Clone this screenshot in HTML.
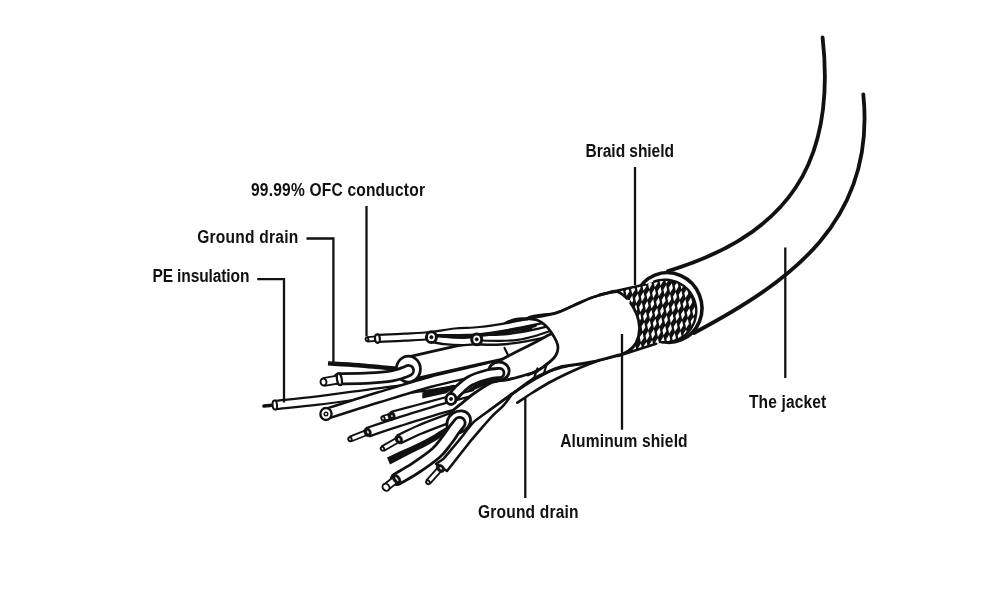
<!DOCTYPE html>
<html><head><meta charset="utf-8"><style>
html,body{margin:0;padding:0;background:#fff;width:1000px;height:600px;overflow:hidden}
svg{display:block;will-change:transform}
text{font-family:"Liberation Sans",sans-serif;font-size:19px;font-weight:700;fill:#111}
</style></head><body>
<svg width="1000" height="600" viewBox="0 0 1000 600">
<defs>

</defs>
<rect width="1000" height="600" fill="#fff"/>
<path d="M822.6,37.5 C836.6,163 788,235 668.0,271.0" fill="none" stroke="#111" stroke-width="3.8" stroke-linecap="round"/>
<path d="M863.3,94.3 C876.3,221.1 790.3,281.8 694.0,333.0" fill="none" stroke="#111" stroke-width="3.8" stroke-linecap="round"/>
<ellipse cx="668" cy="307.5" rx="33.8" ry="35" transform="rotate(-22 668 307.5)" fill="#fff" stroke="#111" stroke-width="3.6"/>
<clipPath id="bc"><path d="M600,294.5 L645,284.5 L658,280 L667,295 L667,325 L667,338 L665,342 L656,343.8 L618,356 Z M633.7,311 A31.3,31.3 0 1,1 696.3,311 A31.3,31.3 0 1,1 633.7,311 Z"/></clipPath>
<path d="M600,294.5 L645,284.5 L658,280 L667,295 L667,325 L667,338 L665,342 L656,343.8 L618,356 Z M633.7,311 A31.3,31.3 0 1,1 696.3,311 A31.3,31.3 0 1,1 633.7,311 Z" fill="#111"/>
<path d="M597.4,346.8 L598.5,351.9 L595.7,356.3 L594.6,351.2ZM599.0,336.2 L600.1,341.2 L597.4,345.6 L596.3,340.6ZM603.0,345.1 L604.1,350.1 L601.4,354.5 L600.3,349.5ZM607.0,354.0 L608.1,359.0 L605.4,363.4 L604.3,358.4ZM596.7,316.6 L597.8,321.7 L595.0,326.1 L593.9,321.0ZM600.7,325.5 L601.8,330.6 L599.0,335.0 L597.9,329.9ZM604.7,334.4 L605.8,339.5 L603.0,343.9 L601.9,338.8ZM608.7,343.3 L609.8,348.4 L607.0,352.8 L605.9,347.7ZM612.7,352.2 L613.8,357.3 L611.0,361.7 L609.9,356.6ZM598.3,306.0 L599.4,311.0 L596.7,315.4 L595.6,310.4ZM602.3,314.9 L603.4,319.9 L600.7,324.3 L599.6,319.3ZM606.3,323.8 L607.4,328.8 L604.7,333.2 L603.6,328.2ZM610.3,332.7 L611.4,337.7 L608.7,342.1 L607.6,337.1ZM614.3,341.6 L615.4,346.6 L612.7,351.0 L611.6,346.0ZM618.3,350.5 L619.4,355.5 L616.7,359.9 L615.6,354.9ZM596.0,286.4 L597.1,291.5 L594.3,295.9 L593.2,290.8ZM600.0,295.3 L601.1,300.4 L598.3,304.8 L597.2,299.7ZM604.0,304.2 L605.1,309.3 L602.3,313.7 L601.2,308.6ZM608.0,313.1 L609.1,318.2 L606.3,322.6 L605.2,317.5ZM612.0,322.0 L613.1,327.1 L610.3,331.5 L609.2,326.4ZM616.0,330.9 L617.1,336.0 L614.3,340.4 L613.2,335.3ZM620.0,339.8 L621.1,344.9 L618.3,349.3 L617.2,344.2ZM624.0,348.7 L625.1,353.8 L622.3,358.2 L621.2,353.1ZM597.6,275.8 L598.7,280.8 L596.0,285.2 L594.9,280.2ZM601.6,284.7 L602.7,289.7 L600.0,294.1 L598.9,289.1ZM605.6,293.6 L606.7,298.6 L604.0,303.0 L602.9,298.0ZM609.6,302.5 L610.7,307.5 L608.0,311.9 L606.9,306.9ZM613.6,311.4 L614.7,316.4 L612.0,320.8 L610.9,315.8ZM617.6,320.3 L618.7,325.3 L616.0,329.7 L614.9,324.7ZM621.6,329.2 L622.7,334.2 L620.0,338.6 L618.9,333.6ZM625.6,338.1 L626.7,343.1 L624.0,347.5 L622.9,342.5ZM629.6,347.0 L630.7,352.0 L628.0,356.4 L626.9,351.4ZM603.3,274.0 L604.4,279.1 L601.6,283.5 L600.5,278.4ZM607.3,282.9 L608.4,288.0 L605.6,292.4 L604.5,287.3ZM611.3,291.8 L612.4,296.9 L609.6,301.3 L608.5,296.2ZM615.3,300.7 L616.4,305.8 L613.6,310.2 L612.5,305.1ZM619.3,309.6 L620.4,314.7 L617.6,319.1 L616.5,314.0ZM623.3,318.5 L624.4,323.6 L621.6,328.0 L620.5,322.9ZM627.3,327.4 L628.4,332.5 L625.6,336.9 L624.5,331.8ZM631.3,336.3 L632.4,341.4 L629.6,345.8 L628.5,340.7ZM635.3,345.2 L636.4,350.3 L633.6,354.7 L632.5,349.6ZM639.3,354.1 L640.4,359.2 L637.6,363.6 L636.5,358.5ZM608.9,272.3 L610.0,277.3 L607.3,281.7 L606.2,276.7ZM612.9,281.2 L614.0,286.2 L611.3,290.6 L610.2,285.6ZM616.9,290.1 L618.0,295.1 L615.3,299.5 L614.2,294.5ZM620.9,299.0 L622.0,304.0 L619.3,308.4 L618.2,303.4ZM624.9,307.9 L626.0,312.9 L623.3,317.3 L622.2,312.3ZM628.9,316.8 L630.0,321.8 L627.3,326.2 L626.2,321.2ZM632.9,325.7 L634.0,330.7 L631.3,335.1 L630.2,330.1ZM636.9,334.6 L638.0,339.6 L635.3,344.0 L634.2,339.0ZM640.9,343.5 L642.0,348.5 L639.3,352.9 L638.2,347.9ZM644.9,352.4 L646.0,357.4 L643.3,361.8 L642.2,356.8ZM614.6,270.5 L615.7,275.6 L612.9,280.0 L611.8,274.9ZM618.6,279.4 L619.7,284.5 L616.9,288.9 L615.8,283.8ZM622.6,288.3 L623.7,293.4 L620.9,297.8 L619.8,292.7ZM626.6,297.2 L627.7,302.3 L624.9,306.7 L623.8,301.6ZM630.6,306.1 L631.7,311.2 L628.9,315.6 L627.8,310.5ZM634.6,315.0 L635.7,320.1 L632.9,324.5 L631.8,319.4ZM638.6,323.9 L639.7,329.0 L636.9,333.4 L635.8,328.3ZM642.6,332.8 L643.7,337.9 L640.9,342.3 L639.8,337.2ZM646.6,341.7 L647.7,346.8 L644.9,351.2 L643.8,346.1ZM650.6,350.6 L651.7,355.7 L648.9,360.1 L647.8,355.0ZM620.2,268.8 L621.3,273.8 L618.6,278.2 L617.5,273.2ZM624.2,277.7 L625.3,282.7 L622.6,287.1 L621.5,282.1ZM628.2,286.6 L629.3,291.6 L626.6,296.0 L625.5,291.0ZM632.2,295.5 L633.3,300.5 L630.6,304.9 L629.5,299.9ZM636.2,304.4 L637.3,309.4 L634.6,313.8 L633.5,308.8ZM640.2,313.3 L641.3,318.3 L638.6,322.7 L637.5,317.7ZM644.2,322.2 L645.3,327.2 L642.6,331.6 L641.5,326.6ZM648.2,331.1 L649.3,336.1 L646.6,340.5 L645.5,335.5ZM652.2,340.0 L653.3,345.0 L650.6,349.4 L649.5,344.4ZM656.2,348.9 L657.3,353.9 L654.6,358.3 L653.5,353.3ZM625.9,267.0 L627.0,272.1 L624.2,276.5 L623.1,271.4ZM629.9,275.9 L631.0,281.0 L628.2,285.4 L627.1,280.3ZM633.9,284.8 L635.0,289.9 L632.2,294.3 L631.1,289.2ZM637.9,293.7 L639.0,298.8 L636.2,303.2 L635.1,298.1ZM641.9,302.6 L643.0,307.7 L640.2,312.1 L639.1,307.0ZM645.9,311.5 L647.0,316.6 L644.2,321.0 L643.1,315.9ZM649.9,320.4 L651.0,325.5 L648.2,329.9 L647.1,324.8ZM653.9,329.3 L655.0,334.4 L652.2,338.8 L651.1,333.7ZM657.9,338.2 L659.0,343.3 L656.2,347.7 L655.1,342.6ZM661.9,347.1 L663.0,352.2 L660.2,356.6 L659.1,351.5ZM635.5,274.2 L636.6,279.2 L633.9,283.6 L632.8,278.6ZM639.5,283.1 L640.6,288.1 L637.9,292.5 L636.8,287.5ZM643.5,292.0 L644.6,297.0 L641.9,301.4 L640.8,296.4ZM647.5,300.9 L648.6,305.9 L645.9,310.3 L644.8,305.3ZM651.5,309.8 L652.6,314.8 L649.9,319.2 L648.8,314.2ZM655.5,318.7 L656.6,323.7 L653.9,328.1 L652.8,323.1ZM659.5,327.6 L660.6,332.6 L657.9,337.0 L656.8,332.0ZM663.5,336.5 L664.6,341.5 L661.9,345.9 L660.8,340.9ZM667.5,345.4 L668.6,350.4 L665.9,354.8 L664.8,349.8ZM671.5,354.3 L672.6,359.3 L669.9,363.7 L668.8,358.7ZM641.2,272.4 L642.3,277.5 L639.5,281.9 L638.4,276.8ZM645.2,281.3 L646.3,286.4 L643.5,290.8 L642.4,285.7ZM649.2,290.2 L650.3,295.3 L647.5,299.7 L646.4,294.6ZM653.2,299.1 L654.3,304.2 L651.5,308.6 L650.4,303.5ZM657.2,308.0 L658.3,313.1 L655.5,317.5 L654.4,312.4ZM661.2,316.9 L662.3,322.0 L659.5,326.4 L658.4,321.3ZM665.2,325.8 L666.3,330.9 L663.5,335.3 L662.4,330.2ZM669.2,334.7 L670.3,339.8 L667.5,344.2 L666.4,339.1ZM673.2,343.6 L674.3,348.7 L671.5,353.1 L670.4,348.0ZM677.2,352.5 L678.3,357.6 L675.5,362.0 L674.4,356.9ZM646.8,270.7 L647.9,275.7 L645.2,280.1 L644.1,275.1ZM650.8,279.6 L651.9,284.6 L649.2,289.0 L648.1,284.0ZM654.8,288.5 L655.9,293.5 L653.2,297.9 L652.1,292.9ZM658.8,297.4 L659.9,302.4 L657.2,306.8 L656.1,301.8ZM662.8,306.3 L663.9,311.3 L661.2,315.7 L660.1,310.7ZM666.8,315.2 L667.9,320.2 L665.2,324.6 L664.1,319.6ZM670.8,324.1 L671.9,329.1 L669.2,333.5 L668.1,328.5ZM674.8,333.0 L675.9,338.0 L673.2,342.4 L672.1,337.4ZM678.8,341.9 L679.9,346.9 L677.2,351.3 L676.1,346.3ZM682.8,350.8 L683.9,355.8 L681.2,360.2 L680.1,355.2ZM652.5,268.9 L653.6,274.0 L650.8,278.4 L649.7,273.3ZM656.5,277.8 L657.6,282.9 L654.8,287.3 L653.7,282.2ZM660.5,286.7 L661.6,291.8 L658.8,296.2 L657.7,291.1ZM664.5,295.6 L665.6,300.7 L662.8,305.1 L661.7,300.0ZM668.5,304.5 L669.6,309.6 L666.8,314.0 L665.7,308.9ZM672.5,313.4 L673.6,318.5 L670.8,322.9 L669.7,317.8ZM676.5,322.3 L677.6,327.4 L674.8,331.8 L673.7,326.7ZM680.5,331.2 L681.6,336.3 L678.8,340.7 L677.7,335.6ZM684.5,340.1 L685.6,345.2 L682.8,349.6 L681.7,344.5ZM688.5,349.0 L689.6,354.1 L686.8,358.5 L685.7,353.4ZM658.1,267.2 L659.2,272.2 L656.5,276.6 L655.4,271.6ZM662.1,276.1 L663.2,281.1 L660.5,285.5 L659.4,280.5ZM666.1,285.0 L667.2,290.0 L664.5,294.4 L663.4,289.4ZM670.1,293.9 L671.2,298.9 L668.5,303.3 L667.4,298.3ZM674.1,302.8 L675.2,307.8 L672.5,312.2 L671.4,307.2ZM678.1,311.7 L679.2,316.7 L676.5,321.1 L675.4,316.1ZM682.1,320.6 L683.2,325.6 L680.5,330.0 L679.4,325.0ZM686.1,329.5 L687.2,334.5 L684.5,338.9 L683.4,333.9ZM690.1,338.4 L691.2,343.4 L688.5,347.8 L687.4,342.8ZM694.1,347.3 L695.2,352.3 L692.5,356.7 L691.4,351.7ZM663.8,265.4 L664.9,270.5 L662.1,274.9 L661.0,269.8ZM667.8,274.3 L668.9,279.4 L666.1,283.8 L665.0,278.7ZM671.8,283.2 L672.9,288.3 L670.1,292.7 L669.0,287.6ZM675.8,292.1 L676.9,297.2 L674.1,301.6 L673.0,296.5ZM679.8,301.0 L680.9,306.1 L678.1,310.5 L677.0,305.4ZM683.8,309.9 L684.9,315.0 L682.1,319.4 L681.0,314.3ZM687.8,318.8 L688.9,323.9 L686.1,328.3 L685.0,323.2ZM691.8,327.7 L692.9,332.8 L690.1,337.2 L689.0,332.1ZM695.8,336.6 L696.9,341.7 L694.1,346.1 L693.0,341.0ZM699.8,345.5 L700.9,350.6 L698.1,355.0 L697.0,349.9ZM703.8,354.4 L704.9,359.5 L702.1,363.9 L701.0,358.8ZM673.4,272.6 L674.5,277.6 L671.8,282.0 L670.7,277.0ZM677.4,281.5 L678.5,286.5 L675.8,290.9 L674.7,285.9ZM681.4,290.4 L682.5,295.4 L679.8,299.8 L678.7,294.8ZM685.4,299.3 L686.5,304.3 L683.8,308.7 L682.7,303.7ZM689.4,308.2 L690.5,313.2 L687.8,317.6 L686.7,312.6ZM693.4,317.1 L694.5,322.1 L691.8,326.5 L690.7,321.5ZM697.4,326.0 L698.5,331.0 L695.8,335.4 L694.7,330.4ZM701.4,334.9 L702.5,339.9 L699.8,344.3 L698.7,339.3ZM705.4,343.8 L706.5,348.8 L703.8,353.2 L702.7,348.2ZM679.1,270.8 L680.2,275.9 L677.4,280.3 L676.3,275.2ZM683.1,279.7 L684.2,284.8 L681.4,289.2 L680.3,284.1ZM687.1,288.6 L688.2,293.7 L685.4,298.1 L684.3,293.0ZM691.1,297.5 L692.2,302.6 L689.4,307.0 L688.3,301.9ZM695.1,306.4 L696.2,311.5 L693.4,315.9 L692.3,310.8ZM699.1,315.3 L700.2,320.4 L697.4,324.8 L696.3,319.7ZM703.1,324.2 L704.2,329.3 L701.4,333.7 L700.3,328.6ZM684.7,269.1 L685.8,274.1 L683.1,278.5 L682.0,273.5ZM688.7,278.0 L689.8,283.0 L687.1,287.4 L686.0,282.4ZM692.7,286.9 L693.8,291.9 L691.1,296.3 L690.0,291.3ZM696.7,295.8 L697.8,300.8 L695.1,305.2 L694.0,300.2ZM700.7,304.7 L701.8,309.7 L699.1,314.1 L698.0,309.1ZM704.7,313.6 L705.8,318.6 L703.1,323.0 L702.0,318.0ZM690.4,267.3 L691.5,272.4 L688.7,276.8 L687.6,271.7ZM694.4,276.2 L695.5,281.3 L692.7,285.7 L691.6,280.6ZM698.4,285.1 L699.5,290.2 L696.7,294.6 L695.6,289.5ZM702.4,294.0 L703.5,299.1 L700.7,303.5 L699.6,298.4ZM696.0,265.6 L697.1,270.6 L694.4,275.0 L693.3,270.0ZM700.0,274.5 L701.1,279.5 L698.4,283.9 L697.3,278.9ZM704.0,283.4 L705.1,288.4 L702.4,292.8 L701.3,287.8ZM705.7,272.7 L706.8,277.8 L704.0,282.2 L702.9,277.1Z" fill="#fff" clip-path="url(#bc)"/>
<path d="M653.3,282.0 L656.0,281.0 L658.8,280.3 L661.7,279.9 L664.6,279.7 L667.5,279.8 L670.3,280.2 L673.2,280.8 L675.9,281.7 L678.6,282.8 L681.1,284.2 L683.5,285.8 L685.8,287.6 L687.9,289.6 L689.7,291.8 L691.4,294.2 L692.8,296.7 L694.0,299.3 L695.0,302.1 L695.7,304.9 L696.1,307.7 L696.3,310.6 L696.2,313.5 L695.8,316.4 L695.2,319.2 L694.3,322.0 L693.2,324.6 L691.8,327.2 L690.2,329.6 L688.4,331.8 L686.3,333.9 L684.1,335.8 L681.8,337.4 L679.3,338.9 L676.6,340.1 L673.9,341.0 L671.1,341.7 L668.2,342.1 L665.3,342.3 L662.4,342.2 L659.6,341.8" fill="none" stroke="#111" stroke-width="2.4"/>
<path d="M600.0,294.5 L645.0,284.5" fill="none" stroke="#111" stroke-width="2.6" stroke-linecap="round" stroke-linejoin="round"/>
<path d="M618.0,356.0 L656.0,343.8" fill="none" stroke="#111" stroke-width="2.6" stroke-linecap="round" stroke-linejoin="round"/>
<path d="M527.0,318.5 C535.3,314.1 547.3,315.4 555.0,313.3 C562.7,311.2 567.2,308.3 573.3,305.7 C579.4,303.1 585.9,299.8 591.7,297.7 C597.5,295.6 603.8,294.0 608.0,293.0 C612.2,292.0 613.6,290.3 617.0,291.5 C620.4,292.7 625.0,296.2 628.3,300.0 C631.6,303.8 634.7,309.2 636.6,314.0 C638.5,318.8 639.6,323.9 639.5,328.7 C639.4,333.5 637.9,339.3 636.0,343.0 C634.1,346.7 631.3,348.9 628.3,351.0 C625.3,353.1 622.7,354.0 618.0,355.5 C613.3,357.0 605.7,358.7 600.0,360.0 C594.3,361.3 589.3,362.3 584.0,363.3 C578.7,364.3 573.2,364.9 568.0,366.0 C562.8,367.1 558.0,368.5 553.0,370.0 C548.0,371.5 542.2,373.7 538.0,375.0 C533.8,376.3 532.7,376.3 528.0,378.0 C523.3,379.7 513.8,391.3 510.0,385.0 C506.2,378.7 502.2,351.1 505.0,340.0 C507.8,328.9 518.7,322.9 527.0,318.5Z" fill="#fff" stroke="#111" stroke-width="2.8" stroke-linejoin="round"/>
<path d="M275.0,405.0 C282.2,404.2 300.8,402.6 318.0,400.5 C335.2,398.4 359.3,394.9 378.0,392.5 C396.7,390.1 414.7,388.2 430.0,386.0 C445.3,383.8 457.5,381.5 470.0,379.0 C482.5,376.5 499.2,372.3 505.0,371.0" fill="none" stroke="#111" stroke-width="10.600000000000001" stroke-linecap="butt"/>
<path d="M275.0,405.0 C282.2,404.2 300.8,402.6 318.0,400.5 C335.2,398.4 359.3,394.9 378.0,392.5 C396.7,390.1 414.7,388.2 430.0,386.0 C445.3,383.8 457.5,381.5 470.0,379.0 C482.5,376.5 499.2,372.3 505.0,371.0" fill="none" stroke="#fff" stroke-width="6.2" stroke-linecap="butt"/>
<path d="M326.0,414.0 C334.7,411.2 360.7,402.8 378.0,397.5 C395.3,392.2 413.0,386.6 430.0,382.0 C447.0,377.4 465.8,373.7 480.0,370.0 C494.2,366.3 509.2,361.7 515.0,360.0" fill="none" stroke="#111" stroke-width="12.3" stroke-linecap="butt"/>
<path d="M326.0,414.0 C334.7,411.2 360.7,402.8 378.0,397.5 C395.3,392.2 413.0,386.6 430.0,382.0 C447.0,377.4 465.8,373.7 480.0,370.0 C494.2,366.3 509.2,361.7 515.0,360.0" fill="none" stroke="#fff" stroke-width="7.5" stroke-linecap="butt"/>
<ellipse cx="326" cy="414" rx="5.6" ry="6" transform="rotate(0 326 414)" fill="#fff" stroke="#111" stroke-width="2.4"/>
<ellipse cx="326" cy="414" rx="1.8" ry="1.8" transform="rotate(0 326 414)" fill="#fff" stroke="#111" stroke-width="1.4"/>
<path d="M391.6,416.0 C396.0,414.8 409.3,411.3 418.0,409.0 C426.7,406.7 434.5,404.5 444.0,402.0 C453.5,399.5 469.8,395.3 475.0,394.0" fill="none" stroke="#111" stroke-width="10.6" stroke-linecap="butt"/>
<path d="M391.6,416.0 C396.0,414.8 409.3,411.3 418.0,409.0 C426.7,406.7 434.5,404.5 444.0,402.0 C453.5,399.5 469.8,395.3 475.0,394.0" fill="none" stroke="#fff" stroke-width="6" stroke-linecap="butt"/>
<path d="M367.6,432.2 C373.0,430.4 387.3,425.5 400.0,421.5 C412.7,417.5 429.8,412.1 444.0,408.0 C458.2,403.9 478.2,398.8 485.0,397.0" fill="none" stroke="#111" stroke-width="11.1" stroke-linecap="butt"/>
<path d="M367.6,432.2 C373.0,430.4 387.3,425.5 400.0,421.5 C412.7,417.5 429.8,412.1 444.0,408.0 C458.2,403.9 478.2,398.8 485.0,397.0" fill="none" stroke="#fff" stroke-width="6.5" stroke-linecap="butt"/>
<path d="M398.8,439.4 C402.3,437.8 412.0,432.9 420.0,429.5 C428.0,426.1 436.2,423.2 447.0,419.0 C457.8,414.8 478.7,406.5 485.0,404.0" fill="none" stroke="#111" stroke-width="11.1" stroke-linecap="butt"/>
<path d="M398.8,439.4 C402.3,437.8 412.0,432.9 420.0,429.5 C428.0,426.1 436.2,423.2 447.0,419.0 C457.8,414.8 478.7,406.5 485.0,404.0" fill="none" stroke="#fff" stroke-width="6.5" stroke-linecap="butt"/>
<path d="M422.3,392.6 L453.5,384.8 L455.5,386.5 L446.5,393.3 L422.3,398.4Z" fill="#111"/>
<path d="M328.0,363.4 C333.0,363.7 349.0,364.5 358.0,365.2 C367.0,365.9 375.0,366.8 382.0,367.4 C389.0,368.0 397.0,368.7 400.0,369.0" fill="none" stroke="#111" stroke-width="4.4" stroke-linecap="butt" stroke-linejoin="round"/>
<path d="M409.0,368.5 C416.7,366.8 439.0,361.6 455.0,358.0 C471.0,354.4 491.7,350.0 505.0,347.0 C518.3,344.0 530.0,341.2 535.0,340.0" fill="none" stroke="#111" stroke-width="25.6" stroke-linecap="butt"/>
<path d="M409.0,368.5 C416.7,366.8 439.0,361.6 455.0,358.0 C471.0,354.4 491.7,350.0 505.0,347.0 C518.3,344.0 530.0,341.2 535.0,340.0" fill="none" stroke="#fff" stroke-width="20" stroke-linecap="butt"/>
<ellipse cx="408.4" cy="369.1" rx="12" ry="13" transform="rotate(0 408.4 369.1)" fill="#fff" stroke="#111" stroke-width="2.8"/>
<path d="M339.4,378.8 C344.5,378.7 361.2,378.5 370.0,378.0 C378.8,377.5 386.5,376.7 392.0,375.8 C397.5,374.9 400.2,373.7 403.0,372.8 C405.8,371.9 407.6,370.9 408.5,370.5" fill="none" stroke="#111" stroke-width="13.0" stroke-linecap="round"/>
<path d="M339.4,378.8 C344.5,378.7 361.2,378.5 370.0,378.0 C378.8,377.5 386.5,376.7 392.0,375.8 C397.5,374.9 400.2,373.7 403.0,372.8 C405.8,371.9 407.6,370.9 408.5,370.5" fill="none" stroke="#fff" stroke-width="7.4" stroke-linecap="round"/>
<path d="M377.0,338.3 C381.7,338.1 396.0,337.7 405.0,337.2 C414.0,336.7 422.7,336.4 431.0,335.5 C439.3,334.6 446.8,332.8 455.0,332.0 C463.2,331.2 470.8,331.5 480.0,330.5 C489.2,329.5 499.2,327.9 510.0,326.0 C520.8,324.1 539.2,320.2 545.0,319.0" fill="none" stroke="#111" stroke-width="9.2" stroke-linecap="butt"/>
<path d="M377.0,338.3 C381.7,338.1 396.0,337.7 405.0,337.2 C414.0,336.7 422.7,336.4 431.0,335.5 C439.3,334.6 446.8,332.8 455.0,332.0 C463.2,331.2 470.8,331.5 480.0,330.5 C489.2,329.5 499.2,327.9 510.0,326.0 C520.8,324.1 539.2,320.2 545.0,319.0" fill="none" stroke="#fff" stroke-width="4.8" stroke-linecap="butt"/>
<path d="M477.0,339.5 C480.8,339.5 492.0,340.1 500.0,339.6 C508.0,339.1 516.3,338.0 525.0,336.5 C533.7,335.0 547.5,331.5 552.0,330.5" fill="none" stroke="#111" stroke-width="12.3" stroke-linecap="butt"/>
<path d="M477.0,339.5 C480.8,339.5 492.0,340.1 500.0,339.6 C508.0,339.1 516.3,338.0 525.0,336.5 C533.7,335.0 547.5,331.5 552.0,330.5" fill="none" stroke="#fff" stroke-width="7.5" stroke-linecap="butt"/>
<path d="M431.4,338.0 C433.7,338.4 439.9,339.9 445.0,340.5 C450.1,341.1 456.7,341.5 462.0,341.5 C467.3,341.5 474.5,340.7 477.0,340.5" fill="none" stroke="#111" stroke-width="9.8" stroke-linecap="butt"/>
<path d="M431.4,338.0 C433.7,338.4 439.9,339.9 445.0,340.5 C450.1,341.1 456.7,341.5 462.0,341.5 C467.3,341.5 474.5,340.7 477.0,340.5" fill="none" stroke="#fff" stroke-width="5" stroke-linecap="butt"/>
<path d="M436.0,335.8 C439.7,335.8 450.7,335.9 458.0,335.8 C465.3,335.7 472.2,335.9 480.0,335.2 C487.8,334.5 495.8,333.4 505.0,331.8 C514.2,330.2 530.0,326.6 535.0,325.5" fill="none" stroke="#111" stroke-width="3.6" stroke-linecap="round" stroke-linejoin="round"/>
<path d="M482.0,340.5 C485.0,340.6 494.0,340.9 500.0,340.8 C506.0,340.7 512.2,340.6 518.0,339.8 C523.8,339.0 529.7,337.5 535.0,336.0 C540.3,334.5 547.5,331.8 550.0,331.0" fill="none" stroke="#111" stroke-width="2.2" stroke-linecap="round" stroke-linejoin="round"/>
<ellipse cx="431.4" cy="337.2" rx="5" ry="5.4" transform="rotate(0 431.4 337.2)" fill="#fff" stroke="#111" stroke-width="3.0"/>
<ellipse cx="431.4" cy="337.2" rx="1.6" ry="1.6" transform="rotate(0 431.4 337.2)" fill="#111" stroke="#111" stroke-width="0.8"/>
<ellipse cx="476.7" cy="339.3" rx="5" ry="5.4" transform="rotate(0 476.7 339.3)" fill="#fff" stroke="#111" stroke-width="3.0"/>
<ellipse cx="476.7" cy="339.3" rx="1.6" ry="1.6" transform="rotate(0 476.7 339.3)" fill="#111" stroke="#111" stroke-width="0.8"/>
<path d="M497.0,362.0 C500.0,360.4 509.5,355.3 515.0,352.5 C520.5,349.7 525.0,347.6 530.0,345.0 C535.0,342.4 539.2,340.0 545.0,337.0 C550.8,334.0 561.7,328.7 565.0,327.0 L565.0,350.0 C562.8,351.7 556.2,356.8 552.0,360.0 C547.8,363.2 544.2,366.6 540.0,369.3 C535.8,372.0 530.9,374.5 526.7,376.0 C522.5,377.5 519.0,377.8 515.0,378.5 C511.1,379.2 505.0,380.2 503.0,380.5Z" fill="#fff" stroke="none"/>
<path d="M497.0,362.0 C500.0,360.4 509.5,355.3 515.0,352.5 C520.5,349.7 525.0,347.6 530.0,345.0 C535.0,342.4 539.2,340.0 545.0,337.0 C550.8,334.0 561.7,328.7 565.0,327.0" fill="none" stroke="#111" stroke-width="2.8" stroke-linecap="round"/>
<path d="M503.0,380.5 C505.0,380.2 511.1,379.2 515.0,378.5 C519.0,377.8 522.5,377.5 526.7,376.0 C530.9,374.5 535.8,372.0 540.0,369.3 C544.2,366.6 547.8,363.2 552.0,360.0 C556.2,356.8 562.8,351.7 565.0,350.0" fill="none" stroke="#111" stroke-width="2.8" stroke-linecap="round"/>
<ellipse cx="499" cy="371" rx="10.2" ry="9" transform="rotate(0 499 371)" fill="#fff" stroke="#111" stroke-width="2.8"/>
<path d="M451.0,399.0 C452.2,397.7 454.8,394.0 458.0,391.0 C461.2,388.0 465.0,383.8 470.0,381.0 C475.0,378.2 483.1,375.8 488.0,374.5 C492.9,373.2 497.4,373.2 499.3,373.0" fill="none" stroke="#111" stroke-width="12.1" stroke-linecap="round"/>
<path d="M451.0,399.0 C452.2,397.7 454.8,394.0 458.0,391.0 C461.2,388.0 465.0,383.8 470.0,381.0 C475.0,378.2 483.1,375.8 488.0,374.5 C492.9,373.2 497.4,373.2 499.3,373.0" fill="none" stroke="#fff" stroke-width="6.5" stroke-linecap="round"/>
<ellipse cx="451" cy="399" rx="5" ry="5.4" transform="rotate(0 451 399)" fill="#fff" stroke="#111" stroke-width="3.0"/>
<ellipse cx="451" cy="399" rx="1.6" ry="1.6" transform="rotate(0 451 399)" fill="#111" stroke="#111" stroke-width="0.8"/>
<path d="M387,457.5 C395,453.5 402,450.5 410,447 C417,443.5 424,440.5 430,437 C436,433.5 441,430 447,426.5 L448.5,430.5 C444,434.5 440,438 436,440.5 C428,445.5 419,449.5 411,453.5 C404,457 397,461 390,464.5 Z" fill="#111"/>
<path d="M449.0,414.0 C450.8,412.4 455.9,408.0 460.0,404.7 C464.1,401.4 468.5,397.4 473.3,394.0 C478.1,390.6 484.8,386.1 488.7,384.0 C492.6,381.9 493.7,382.0 496.7,381.3 C499.7,380.6 502.8,380.8 506.7,380.0 C510.6,379.2 515.3,378.0 520.0,376.7 C524.7,375.4 528.3,374.1 535.0,372.0 C541.7,369.9 555.8,365.3 560.0,364.0 L560.0,366.0 C555.8,368.2 543.0,374.3 535.0,379.0 C527.0,383.7 519.7,388.7 512.0,394.0 C504.3,399.3 495.7,405.7 488.7,411.0 C481.7,416.3 473.1,423.5 470.0,426.0Z" fill="#fff" stroke="none"/>
<path d="M449.0,414.0 C450.8,412.4 455.9,408.0 460.0,404.7 C464.1,401.4 468.5,397.4 473.3,394.0 C478.1,390.6 484.8,386.1 488.7,384.0 C492.6,381.9 493.7,382.0 496.7,381.3 C499.7,380.6 502.8,380.8 506.7,380.0 C510.6,379.2 515.3,378.0 520.0,376.7 C524.7,375.4 528.3,374.1 535.0,372.0 C541.7,369.9 555.8,365.3 560.0,364.0" fill="none" stroke="#111" stroke-width="2.8" stroke-linecap="round"/>
<path d="M470.0,426.0 C473.1,423.5 481.7,416.3 488.7,411.0 C495.7,405.7 504.3,399.3 512.0,394.0 C519.7,388.7 527.0,383.7 535.0,379.0 C543.0,374.3 555.8,368.2 560.0,366.0" fill="none" stroke="#111" stroke-width="2.8" stroke-linecap="round"/>
<path d="M468,390 C475,384 482,380 490,378.5 C494,378 498,379 501,380.5 C496,381 492,382 488,384 C482,386.5 476,389 470,392Z" fill="#111"/>
<path d="M436,464 L443.3,459 C450,451 457,443 463.3,435 C467,430 470,426 474,421.7 C479,418 484,414 488.7,411 C497,405 504,400 512,394 C508,400 505,404 502,407 C496,412 491,417 486,423 C480,430 475,436 470,441.7 C462,452 454,462 447,471 Z" fill="#fff" stroke="#111" stroke-width="2.6" stroke-linejoin="round"/>
<path d="M512.0,394.0 C513.7,392.8 518.5,389.1 522.0,386.5 C525.5,383.9 531.2,380.0 533.0,378.7" fill="none" stroke="#111" stroke-width="2.6" stroke-linecap="round" stroke-linejoin="round"/>
<ellipse cx="458.7" cy="421.9" rx="12.5" ry="10.3" transform="rotate(-35 458.7 421.9)" fill="#fff" stroke="#111" stroke-width="2.8"/>
<path d="M397.0,479.0 C400.0,477.2 408.5,472.6 415.0,468.3 C421.5,464.0 430.7,457.7 436.0,453.0 C441.3,448.3 444.0,443.8 447.0,440.0 C450.0,436.2 451.9,432.8 454.0,430.0 C456.1,427.2 458.6,424.2 459.5,423.0" fill="none" stroke="#111" stroke-width="14.1" stroke-linecap="round"/>
<path d="M397.0,479.0 C400.0,477.2 408.5,472.6 415.0,468.3 C421.5,464.0 430.7,457.7 436.0,453.0 C441.3,448.3 444.0,443.8 447.0,440.0 C450.0,436.2 451.9,432.8 454.0,430.0 C456.1,427.2 458.6,424.2 459.5,423.0" fill="none" stroke="#fff" stroke-width="8.5" stroke-linecap="round"/>
<path d="M367,339.3 L377.4,338.6" stroke="#111" stroke-width="6.2" stroke-linecap="butt"/>
<path d="M367,339.3 L377.4,338.6" stroke="#fff" stroke-width="2.6" stroke-linecap="butt"/>
<ellipse cx="367" cy="339.3" rx="1.445" ry="1.7000000000000002" transform="rotate(-3.8506388239106997 367 339.3)" fill="#fff" stroke="#111" stroke-width="1.9"/>
<ellipse cx="377.4" cy="338.6" rx="2.4" ry="4.3" transform="rotate(-3.8506388239106997 377.4 338.6)" fill="#fff" stroke="#111" stroke-width="2.2"/>
<path d="M323.5,382 L339.4,379.3" stroke="#111" stroke-width="9.8" stroke-linecap="butt"/>
<path d="M323.5,382 L339.4,379.3" stroke="#fff" stroke-width="6.2" stroke-linecap="butt"/>
<ellipse cx="323.5" cy="382" rx="2.975" ry="3.5" transform="rotate(-9.63753811293092 323.5 382)" fill="#fff" stroke="#111" stroke-width="1.9"/>
<ellipse cx="339.4" cy="379.3" rx="2.4" ry="6.0" transform="rotate(-9.63753811293092 339.4 379.3)" fill="#fff" stroke="#111" stroke-width="2.2"/>
<path d="M264,406 L275,405" stroke="#111" stroke-width="3.6" stroke-linecap="round"/>
<ellipse cx="274.8" cy="405" rx="2.2" ry="4.6" transform="rotate(-5 274.8 405)" fill="#fff" stroke="#111" stroke-width="2.0"/>
<path d="M383,418.4 L391.6,416" stroke="#111" stroke-width="6.800000000000001" stroke-linecap="butt"/>
<path d="M383,418.4 L391.6,416" stroke="#fff" stroke-width="3.2" stroke-linecap="butt"/>
<ellipse cx="383" cy="418.4" rx="1.7" ry="2.0" transform="rotate(-15.592810939266169 383 418.4)" fill="#fff" stroke="#111" stroke-width="1.9"/>
<ellipse cx="391.6" cy="416" rx="3.6" ry="4.25" transform="rotate(-15.592810939266169 391.6 416)" fill="#111" stroke="#111" stroke-width="0.5"/>
<ellipse cx="391.90000000000003" cy="416" rx="1.0" ry="1.0499999999999998" transform="rotate(-15.592810939266169 391.90000000000003 416)" fill="#ddd" stroke="#111" stroke-width="0.1"/>
<path d="M350,439.2 L367.6,432.2" stroke="#111" stroke-width="6.800000000000001" stroke-linecap="butt"/>
<path d="M350,439.2 L367.6,432.2" stroke="#fff" stroke-width="3.2" stroke-linecap="butt"/>
<ellipse cx="350" cy="439.2" rx="1.7" ry="2.0" transform="rotate(-21.689064964615778 350 439.2)" fill="#fff" stroke="#111" stroke-width="1.9"/>
<ellipse cx="367.6" cy="432.2" rx="3.6" ry="4.75" transform="rotate(-21.689064964615778 367.6 432.2)" fill="#111" stroke="#111" stroke-width="0.5"/>
<ellipse cx="367.90000000000003" cy="432.2" rx="1.0" ry="1.5499999999999998" transform="rotate(-21.689064964615778 367.90000000000003 432.2)" fill="#ddd" stroke="#111" stroke-width="0.1"/>
<path d="M382.5,448.8 L398.8,439.4" stroke="#111" stroke-width="6.800000000000001" stroke-linecap="butt"/>
<path d="M382.5,448.8 L398.8,439.4" stroke="#fff" stroke-width="3.2" stroke-linecap="butt"/>
<ellipse cx="382.5" cy="448.8" rx="1.7" ry="2.0" transform="rotate(-29.97149493207278 382.5 448.8)" fill="#fff" stroke="#111" stroke-width="1.9"/>
<ellipse cx="398.8" cy="439.4" rx="3.6" ry="4.75" transform="rotate(-29.97149493207278 398.8 439.4)" fill="#111" stroke="#111" stroke-width="0.5"/>
<ellipse cx="399.1" cy="439.4" rx="1.0" ry="1.5499999999999998" transform="rotate(-29.97149493207278 399.1 439.4)" fill="#ddd" stroke="#111" stroke-width="0.1"/>
<path d="M386,487.2 L396.5,479" stroke="#111" stroke-width="8.6" stroke-linecap="butt"/>
<path d="M386,487.2 L396.5,479" stroke="#fff" stroke-width="5" stroke-linecap="butt"/>
<ellipse cx="386" cy="487.2" rx="3.23" ry="3.8" transform="rotate(-37.988141725524855 386 487.2)" fill="#fff" stroke="#111" stroke-width="1.9"/>
<ellipse cx="396.5" cy="479" rx="3.6" ry="5.75" transform="rotate(-37.988141725524855 396.5 479)" fill="#111" stroke="#111" stroke-width="0.5"/>
<ellipse cx="396.8" cy="479" rx="1.0" ry="2.55" transform="rotate(-37.988141725524855 396.8 479)" fill="#ddd" stroke="#111" stroke-width="0.1"/>
<path d="M428,482.2 L440.5,468.3" stroke="#111" stroke-width="6.800000000000001" stroke-linecap="butt"/>
<path d="M428,482.2 L440.5,468.3" stroke="#fff" stroke-width="3.2" stroke-linecap="butt"/>
<ellipse cx="428" cy="482.2" rx="1.7" ry="2.0" transform="rotate(-48.035569125055524 428 482.2)" fill="#fff" stroke="#111" stroke-width="1.9"/>
<ellipse cx="440.5" cy="468.3" rx="3.6" ry="4.75" transform="rotate(-48.035569125055524 440.5 468.3)" fill="#111" stroke="#111" stroke-width="0.5"/>
<ellipse cx="440.8" cy="468.3" rx="1.0" ry="1.5499999999999998" transform="rotate(-48.035569125055524 440.8 468.3)" fill="#ddd" stroke="#111" stroke-width="0.1"/>
<path d="M527,318.5 L537,320 L545,325 L551,332 L556.5,341.5 L558,348 L556,355 L550.7,361.3 L542,368 L538,372 L546,372.5 L560,367 L580,364 L600,360 L618,355 L630,300 L591.7,297.7 L573.3,305.7 L555,313.3Z" fill="#fff" stroke="none"/>
<path d="M527.0,318.5 C528.7,318.8 534.0,318.9 537.0,320.0 C540.0,321.1 542.7,323.0 545.0,325.0 C547.3,327.0 549.1,329.2 551.0,332.0 C552.9,334.8 555.3,338.8 556.5,341.5 C557.7,344.2 558.1,345.8 558.0,348.0 C557.9,350.2 557.2,352.8 556.0,355.0 C554.8,357.2 553.4,358.9 550.7,361.3 C548.0,363.7 543.8,367.0 540.0,369.3 C536.2,371.6 530.0,374.1 528.0,375.0" fill="none" stroke="#111" stroke-width="2.8" stroke-linecap="round" stroke-linejoin="round"/>
<path d="M527.0,318.5 C531.7,317.6 547.3,315.4 555.0,313.3 C562.7,311.2 567.2,308.3 573.3,305.7 C579.4,303.1 585.9,299.8 591.7,297.7 C597.5,295.6 603.8,294.0 608.0,293.0 C612.2,292.0 615.5,291.8 617.0,291.5" fill="none" stroke="#111" stroke-width="2.8" stroke-linecap="round" stroke-linejoin="round"/>
<path d="M533.0,378.7 C535.2,377.7 541.5,374.4 546.0,372.5 C550.5,370.6 554.3,368.4 560.0,367.0 C565.7,365.6 573.3,365.2 580.0,364.0 C586.7,362.8 593.7,361.5 600.0,360.0 C606.3,358.5 615.0,355.8 618.0,355.0" fill="none" stroke="#111" stroke-width="2.8" stroke-linecap="round" stroke-linejoin="round"/>
<path d="M517.3,402.7 C519.8,401.1 527.1,396.1 532.0,393.0 C536.9,389.9 542.0,386.7 546.7,384.0 C551.4,381.3 555.6,379.2 560.0,377.0 C564.4,374.8 568.6,372.8 573.3,370.7 C578.0,368.6 583.5,366.3 588.0,364.5 C592.5,362.7 598.0,360.8 600.0,360.0" fill="none" stroke="#111" stroke-width="2.6" stroke-linecap="round" stroke-linejoin="round"/>
<path d="M504,322.5 C511,318.3 519,316.2 529,317.6 L528,320.6 C520,320.2 512,321.2 505,323.8 Z" fill="#111"/>
<path d="M504.5,348.0 L507.5,354.0" fill="none" stroke="#111" stroke-width="2.2" stroke-linecap="round" stroke-linejoin="round"/>
<path d="M537.5,368.5 L534.5,376.5" fill="none" stroke="#111" stroke-width="2.2" stroke-linecap="round" stroke-linejoin="round"/>
<path d="M546.5,365.0 L544.0,373.0" fill="none" stroke="#111" stroke-width="2.2" stroke-linecap="round" stroke-linejoin="round"/>
<path d="M635,167 L635,285" fill="none" stroke="#111" stroke-width="2.3" stroke-linecap="butt"/>
<path d="M366.5,206 L366.5,336.5" fill="none" stroke="#111" stroke-width="2.3" stroke-linecap="butt"/>
<path d="M306.5,238.5 L333.4,238.5 L333.4,362" fill="none" stroke="#111" stroke-width="2.3" stroke-linecap="butt"/>
<path d="M257.2,279.2 L284,279.2 L284,402.5" fill="none" stroke="#111" stroke-width="2.3" stroke-linecap="butt"/>
<path d="M785.3,247.5 L785.3,378" fill="none" stroke="#111" stroke-width="2.3" stroke-linecap="butt"/>
<path d="M622,334 L622,429.7" fill="none" stroke="#111" stroke-width="2.3" stroke-linecap="butt"/>
<path d="M525.3,398 L525.3,498" fill="none" stroke="#111" stroke-width="2.3" stroke-linecap="butt"/>
<text transform="translate(585.6 156.7) scale(0.82 1)" x="0" y="0" textLength="107.8" lengthAdjust="spacing">Braid shield</text>
<text transform="translate(251 196) scale(0.82 1)" x="0" y="0" textLength="212.2" lengthAdjust="spacing">99.99% OFC conductor</text>
<text transform="translate(197.2 242.7) scale(0.82 1)" x="0" y="0" textLength="123.2" lengthAdjust="spacing">Ground drain</text>
<text transform="translate(152.4 282.4) scale(0.82 1)" x="0" y="0" textLength="118.3" lengthAdjust="spacing">PE insulation</text>
<text transform="translate(749 408) scale(0.82 1)" x="0" y="0" textLength="94.1" lengthAdjust="spacing">The jacket</text>
<text transform="translate(560.2 446.7) scale(0.82 1)" x="0" y="0" textLength="155.4" lengthAdjust="spacing">Aluminum shield</text>
<text transform="translate(478 517.7) scale(0.82 1)" x="0" y="0" textLength="122.7" lengthAdjust="spacing">Ground drain</text>
</svg>
</body></html>
